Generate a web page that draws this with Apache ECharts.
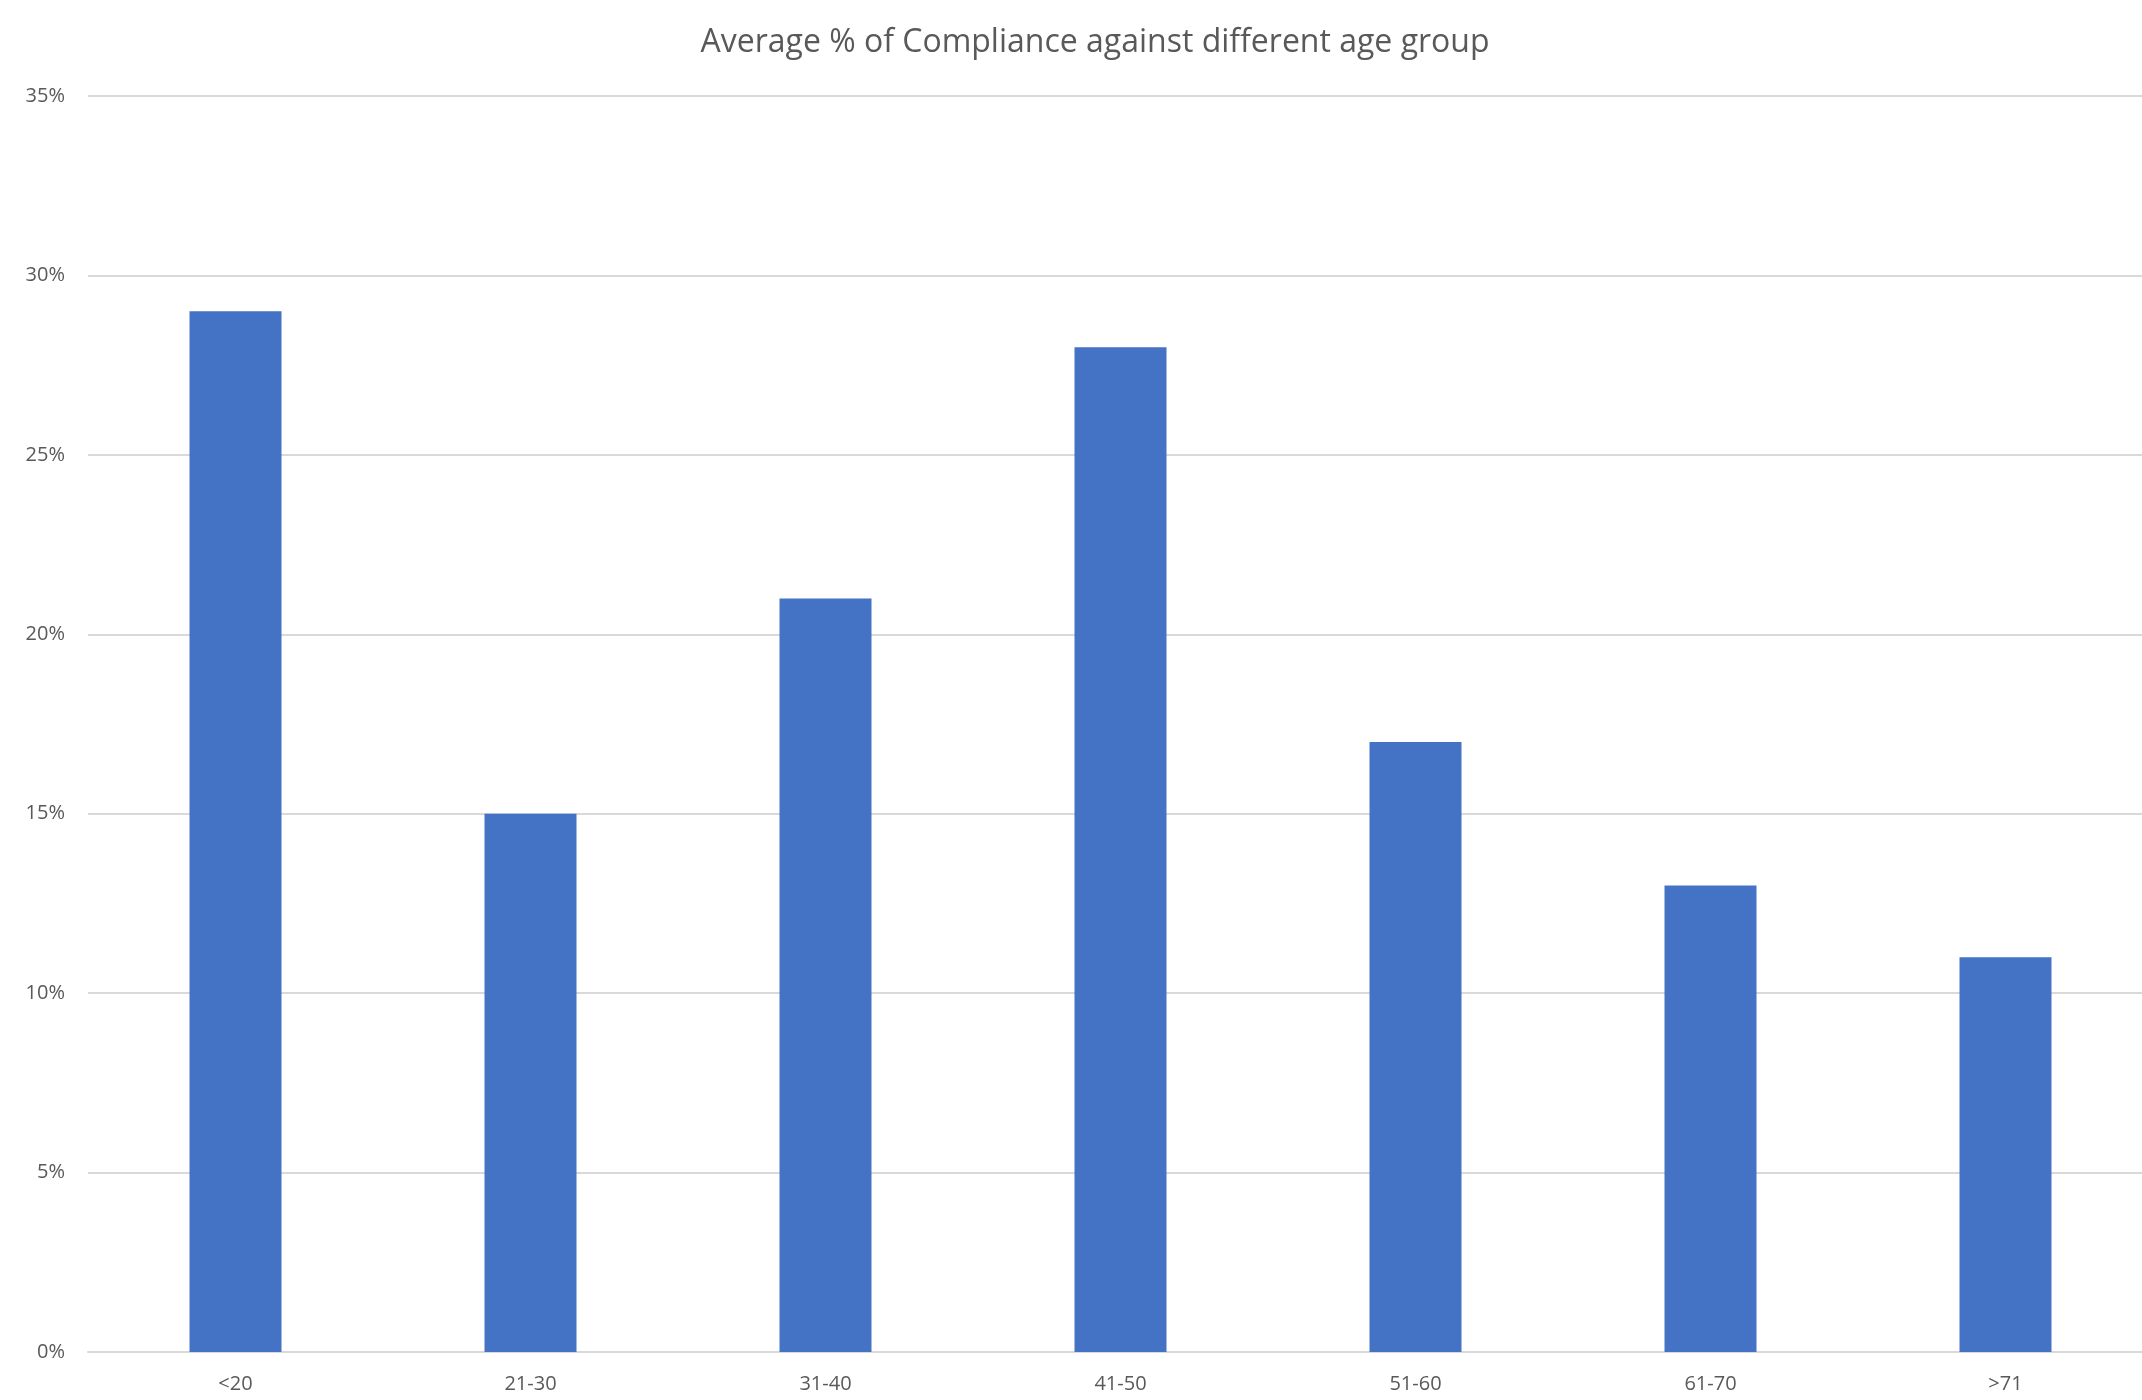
<!DOCTYPE html>
<html><head><meta charset="utf-8">
<script src="https://cdn.jsdelivr.net/npm/echarts@6/dist/echarts.min.js"></script>
<style>html,body{margin:0;padding:0;background:#fff;overflow:hidden;width:2142px;height:1400px}#c{width:2160px;height:1400px}</style>
</head><body><div id="c"></div>
<script>
const categories = ['<20','21-30','31-40','41-50','51-60','61-70','>71'];
const compliance = [29, 15, 21, 28, 17, 13, 11];
const yTicks = [0, 5, 10, 15, 20, 25, 30, 35];
const titleText = 'Average % of Compliance against different age group';

const chart = echarts.init(document.getElementById('c'), null, {renderer:'canvas', width: 2160, height: 1400});
chart.setOption({
  animation: false,
  backgroundColor: '#ffffff',
  title: {
    text: titleText,
    left: 1090, top: 22, textAlign: 'center',
    textStyle: {fontFamily: 'Open Sans', fontSize: 32, fontWeight: 'normal', color: '#595959'}
  },
  grid: {left: 88, right: 7, top: 96, bottom: 48, containLabel: false},
  xAxis: {
    type: 'category', data: categories,
    axisLine: {lineStyle: {color: '#d9d9d9', width: 2}},
    axisTick: {show: false},
    axisLabel: {color: '#595959', fontFamily: 'Open Sans', fontSize: 20, margin: 22}
  },
  yAxis: {
    type: 'value', min: yTicks[0], max: yTicks[yTicks.length-1], interval: 5,
    axisLine: {show: false}, axisTick: {show: false},
    splitLine: {lineStyle: {color: '#d9d9d9', width: 2}},
    axisLabel: {color: '#595959', fontFamily: 'Open Sans', fontSize: 20, margin: 23, formatter: v => v + '%'}
  },
  series: [{
    type: 'bar', data: compliance, barWidth: 92,
    itemStyle: {color: '#4472C4'}
  }]
});
</script></body></html>
